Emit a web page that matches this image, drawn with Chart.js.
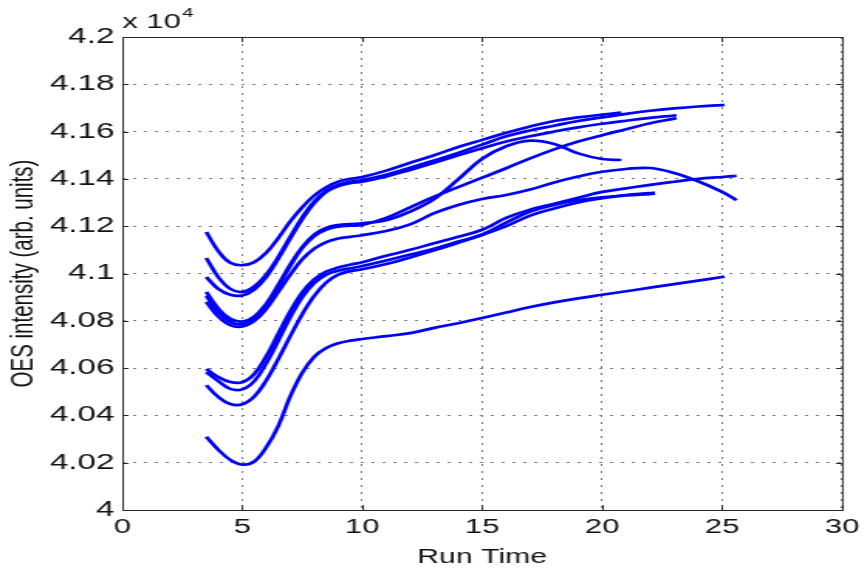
<!DOCTYPE html>
<html>
<head>
<meta charset="utf-8">
<script src="https://cdn.jsdelivr.net/npm/chart.js@4/dist/chart.umd.min.js"></script>
<style>
  html, body { margin: 0; padding: 0; background: #fff; overflow: hidden; }
  /* figure is laid out narrow and stretched sideways, like the exported plot */
  #wrap { width: 560px; height: 571px; transform: scale(1.5482, 1); transform-origin: 0 0; }
</style>
</head>
<body>
<div id="wrap"><canvas id="grafico"></canvas></div>
<script>
// run time grid shared by all runs; the last value of each run sits at its own end time
const runTime = [3.5, 4, 4.5, 5, 5.5, 6, 6.5, 7, 7.5, 8, 8.5, 9, 9.5, 10, 11, 12, 13, 14, 15, 16, 17, 18, 19, 20, 21, 22, 23, 24, 25];
const runEnd = [20.8, 25.1, 23.1, 20.8, 23.1, 25.6, 25.6, 22.2, 22.2, 25.1];

// OES intensity, x 10^4
const run1 = [4.1175, 4.1095, 4.1045, 4.1035, 4.1048, 4.1088, 4.115, 4.122, 4.128, 4.133, 4.1365, 4.1388, 4.14, 4.1408, 4.1435, 4.1468, 4.150, 4.1535, 4.1565, 4.1595, 4.1622, 4.1645, 4.166, 4.1672, 4.168];
const run2 = [4.1066, 4.0985, 4.0935, 4.0922, 4.0945, 4.0995, 4.107, 4.1155, 4.1238, 4.1305, 4.135, 4.1375, 4.1388, 4.1395, 4.1418, 4.1447, 4.1478, 4.151, 4.1545, 4.158, 4.1605, 4.1625, 4.1645, 4.166, 4.1675, 4.1688, 4.1698, 4.1706, 4.1712, 4.1713];
const run3 = [4.0985, 4.0935, 4.091, 4.0907, 4.0932, 4.0985, 4.1062, 4.1148, 4.123, 4.1298, 4.1345, 4.137, 4.1382, 4.1388, 4.141, 4.1438, 4.1468, 4.150, 4.153, 4.1558, 4.158, 4.160, 4.1618, 4.1633, 4.1646, 4.1658, 4.1668, 4.1669];
const run4 = [4.0922, 4.0852, 4.0808, 4.0797, 4.0818, 4.0872, 4.0952, 4.1038, 4.1112, 4.1165, 4.1193, 4.1205, 4.1209, 4.1212, 4.1225, 4.1262, 4.1315, 4.1398, 4.1485, 4.1538, 4.1562, 4.1548, 4.1508, 4.1484, 4.148];
const run5 = [4.0905, 4.0838, 4.0795, 4.0786, 4.081, 4.0865, 4.0945, 4.1032, 4.1108, 4.1158, 4.1186, 4.1198, 4.1202, 4.1205, 4.1235, 4.128, 4.1325, 4.1365, 4.1405, 4.1445, 4.1487, 4.1525, 4.1558, 4.1585, 4.161, 4.1635, 4.1655, 4.1657];
const run6 = [4.088, 4.0818, 4.0782, 4.0776, 4.08, 4.085, 4.0922, 4.0995, 4.106, 4.1105, 4.1133, 4.1148, 4.1155, 4.1162, 4.118, 4.1208, 4.1255, 4.129, 4.1315, 4.1332, 4.1355, 4.1385, 4.141, 4.143, 4.1442, 4.1446, 4.1425, 4.139, 4.1345, 4.131];
const run7 = [4.0596, 4.0562, 4.0541, 4.054, 4.0575, 4.065, 4.0745, 4.084, 4.092, 4.0975, 4.1008, 4.1025, 4.1037, 4.1048, 4.1075, 4.110, 4.1128, 4.1155, 4.1185, 4.1235, 4.127, 4.1295, 4.132, 4.1345, 4.136, 4.1375, 4.1388, 4.140, 4.1408, 4.1413];
const run8 = [4.0583, 4.0545, 4.0512, 4.051, 4.0545, 4.062, 4.0715, 4.0815, 4.09, 4.096, 4.0995, 4.1012, 4.1022, 4.1032, 4.1055, 4.108, 4.1105, 4.1135, 4.1165, 4.1215, 4.1262, 4.129, 4.131, 4.1322, 4.1332, 4.134, 4.1342];
const run9 = [4.0528, 4.0478, 4.0448, 4.0447, 4.048, 4.0548, 4.0638, 4.0735, 4.0828, 4.0905, 4.0962, 4.0995, 4.101, 4.1018, 4.104, 4.1068, 4.1098, 4.113, 4.1163, 4.12, 4.1245, 4.1275, 4.13, 4.1318, 4.133, 4.1336, 4.1338];
const run10 = [4.031, 4.0255, 4.0212, 4.0192, 4.0205, 4.0265, 4.0355, 4.048, 4.058, 4.0648, 4.0685, 4.0705, 4.0716, 4.0723, 4.0735, 4.0748, 4.077, 4.079, 4.0812, 4.0835, 4.0858, 4.0878, 4.0895, 4.091, 4.0925, 4.094, 4.0955, 4.097, 4.0985, 4.0987];

const runs = [run1, run2, run3, run4, run5, run6, run7, run8, run9, run10];
const fonte = '"Liberation Sans", Arial, Helvetica, sans-serif';
Chart.defaults.font.family = fonte;
Chart.defaults.color = '#111';

// frame, inward ticks and the axis exponent
const marcoEixos = {
  id: 'marcoEixos',
  afterDraw(chart) {
    const { ctx, chartArea: a, scales: { x, y } } = chart;
    ctx.save();
    ctx.strokeStyle = '#2a2a2a';
    ctx.lineWidth = 1;
    ctx.strokeRect(a.left + 0.5, a.top + 0.5, a.right - a.left, a.bottom - a.top);
    ctx.beginPath();
    x.ticks.forEach(t => {
      const px = Math.round(x.getPixelForValue(t.value)) + 0.5;
      ctx.moveTo(px, a.bottom); ctx.lineTo(px, a.bottom - 5);
      ctx.moveTo(px, a.top); ctx.lineTo(px, a.top + 5);
    });
    y.ticks.forEach(t => {
      const py = Math.round(y.getPixelForValue(t.value)) + 0.5;
      ctx.moveTo(a.left, py); ctx.lineTo(a.left + 4, py);
      ctx.moveTo(a.right, py); ctx.lineTo(a.right - 4, py);
    });
    ctx.stroke();
    ctx.fillStyle = '#111';
    ctx.textBaseline = 'alphabetic';
    ctx.font = '20px ' + fonte;
    ctx.fillText('x 10', a.left, a.top - 9);
    const w = ctx.measureText('x 10').width;
    ctx.font = '13px ' + fonte;
    ctx.fillText('4', a.left + w + 1, a.top - 20);
    ctx.restore();
  }
};

const ctx = document.getElementById('grafico').getContext('2d');
new Chart(ctx, {
  type: 'line',
  data: {
    datasets: runs.map((vals, k) => ({
      data: vals.map((v, i) => ({ x: i < vals.length - 1 ? runTime[i] : runEnd[k], y: v })),
      borderColor: 'rgb(0,0,245)',
      borderWidth: 2.7,
      pointRadius: 0,
      fill: false,
      tension: 0.4
    }))
  },
  options: {
    responsive: true,
    maintainAspectRatio: false,
    animation: false,
    layout: { padding: { top: 37, right: 11, left: 0, bottom: 0 } },
    plugins: { legend: { display: false }, tooltip: { enabled: false } },
    scales: {
      x: {
        type: 'linear', min: 0, max: 30,
        ticks: { stepSize: 5, padding: 5, font: { size: 20 } },
        grid: { color: '#7c7c7c', drawTicks: false },
        border: { display: false, dash: [2, 5] },
        title: { display: true, text: 'Run Time', font: { size: 19.5 }, padding: { top: 0, bottom: 2 } },
        afterFit: s => { s.height = 61; }
      },
      y: {
        type: 'linear', min: 4, max: 4.2,
        ticks: { stepSize: 0.02, padding: 5, font: { size: 21.5 }, callback: v => +v.toFixed(2) },
        grid: { color: '#7c7c7c', drawTicks: false },
        border: { display: false, dash: [2, 5] },
        title: { display: true, text: 'OES intensity (arb. units)', font: { size: 20.5 }, padding: { top: 3, bottom: 0 } },
        afterFit: s => { s.width = 79; }
      }
    }
  },
  plugins: [marcoEixos]
});
</script>
</body>
</html>
